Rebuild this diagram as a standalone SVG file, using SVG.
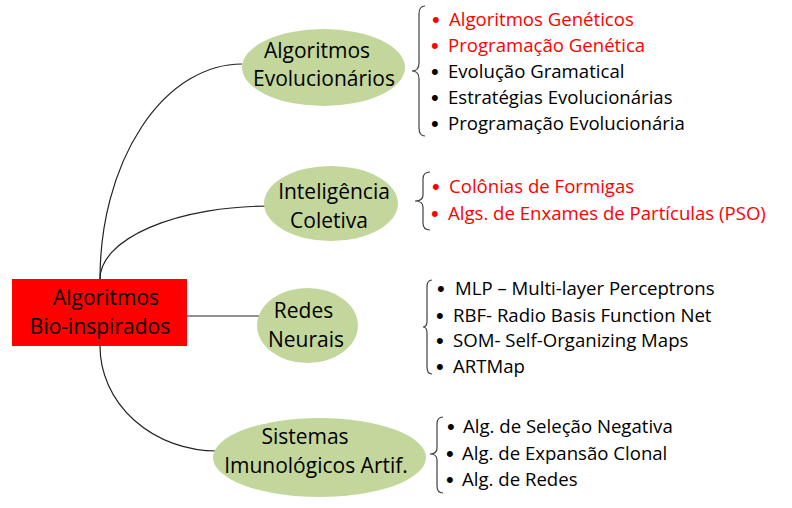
<svg xmlns="http://www.w3.org/2000/svg" width="792" height="508" viewBox="0 0 792 508">
<style>
.node{fill:#c3d69b;}
.lbl{font-family:"Open Sans","Liberation Sans",sans-serif;font-size:21px;fill:#000;text-anchor:middle;}
.item{font-family:"Open Sans","Liberation Sans",sans-serif;font-size:18.6px;fill:#000;}
.bul{font-family:"Liberation Sans",Arial,sans-serif;font-size:22px;}
.red{fill:#ff0000;}
.conn{fill:none;stroke:#222;stroke-width:1.2;}
.brace{fill:none;stroke:#404040;stroke-width:1.2;}
</style>
<rect width="792" height="508" fill="#fff"/>
<g id="connectors">
<path class="conn" d="M100,279 A142,215 0 0 1 242,64"/>
<path class="conn" d="M100,279 A170,73 0 0 1 270,206"/>
<path class="conn" d="M187,316 L265,316"/>
<path class="conn" d="M100,346 A117,105 0 0 0 217,451"/>
</g>
<g id="root">
<rect x="12" y="279" width="175" height="67" fill="#ff0000"/>
<text class="lbl" x="106" y="305">Algoritmos</text>
<text class="lbl" x="100" y="334">Bio-inspirados</text>
</g>
<g id="evolucionarios">
<ellipse class="node" cx="323.5" cy="67.5" rx="81.5" ry="38.5"/>
<text class="lbl" x="317" y="58">Algoritmos</text>
<text class="lbl" x="324" y="86">Evolucionários</text>
</g>
<g id="coletiva">
<ellipse class="node" cx="331" cy="203.5" rx="67" ry="37.5"/>
<text class="lbl" x="334" y="199">Inteligência</text>
<text class="lbl" x="329" y="228">Coletiva</text>
</g>
<g id="redes">
<ellipse class="node" cx="307.5" cy="325.5" rx="50.5" ry="37.5"/>
<text class="lbl" x="303.5" y="318">Redes</text>
<text class="lbl" x="306" y="347">Neurais</text>
</g>
<g id="imunologicos">
<ellipse class="node" cx="319.5" cy="457.5" rx="106.5" ry="39.5"/>
<text class="lbl" x="305" y="444">Sistemas</text>
<text class="lbl" x="316" y="473">Imunológicos Artif.</text>
</g>
<g id="list-evolucionarios">
<path class="brace" d="M425,6 Q419,6 419,14 L419,63 Q419,71 412,71 Q419,71 419,79 L419,128 Q419,136 425,136"/>
<text class="item red" x="432" y="26"><tspan class="bul" dy="1">•</tspan><tspan x="449" dy="-1">Algoritmos Genéticos</tspan></text>
<text class="item red" x="431" y="52"><tspan class="bul" dy="1">•</tspan><tspan x="448" dy="-1">Programação Genética</tspan></text>
<text class="item" x="431" y="78"><tspan class="bul" dy="1">•</tspan><tspan x="448" dy="-1">Evolução Gramatical</tspan></text>
<text class="item" x="431" y="104"><tspan class="bul" dy="1">•</tspan><tspan x="448" dy="-1">Estratégias Evolucionárias</tspan></text>
<text class="item" x="431" y="130"><tspan class="bul" dy="1">•</tspan><tspan x="448" dy="-1">Programação Evolucionária</tspan></text>
</g>
<g id="list-coletiva">
<path class="brace" d="M430,172 Q423,172 423,179 L423,195 Q423,201 415,201 Q423,201 423,207 L423,223 Q423,230 430,230"/>
<text class="item red" x="432" y="193"><tspan class="bul" dy="1">•</tspan><tspan x="449" dy="-1">Colônias de Formigas</tspan></text>
<text class="item red" x="431" y="220"><tspan class="bul" dy="1">•</tspan><tspan x="448" dy="-1">Algs. de Enxames de Partículas (PSO)</tspan></text>
</g>
<g id="list-redes">
<path class="brace" d="M432,280 Q427,280 427,287 L427,321 Q427,327 423,327 Q427,327 427,333 L427,367 Q427,374 432,374"/>
<text class="item" x="437" y="295"><tspan class="bul" dy="1">•</tspan><tspan x="455" dy="-1">MLP – Multi-layer Perceptrons</tspan></text>
<text class="item" x="436" y="322"><tspan class="bul" dy="1">•</tspan><tspan x="453" dy="-1">RBF- Radio Basis Function Net</tspan></text>
<text class="item" x="436" y="347"><tspan class="bul" dy="1">•</tspan><tspan x="453" dy="-1">SOM- Self-Organizing Maps</tspan></text>
<text class="item" x="436" y="373"><tspan class="bul" dy="1">•</tspan><tspan x="453" dy="-1">ARTMap</tspan></text>
</g>
<g id="list-imunologicos">
<path class="brace" d="M443,417 Q437,417 437,424 L437,448 Q437,454 430,454 Q437,454 437,460 L437,486 Q437,493 443,493"/>
<text class="item" x="447" y="433"><tspan class="bul" dy="1">•</tspan><tspan x="463" dy="-1">Alg. de Seleção Negativa</tspan></text>
<text class="item" x="446" y="460"><tspan class="bul" dy="1">•</tspan><tspan x="462" dy="-1">Alg. de Expansão Clonal</tspan></text>
<text class="item" x="446" y="486"><tspan class="bul" dy="1">•</tspan><tspan x="462" dy="-1">Alg. de Redes</tspan></text>
</g>
</svg>
